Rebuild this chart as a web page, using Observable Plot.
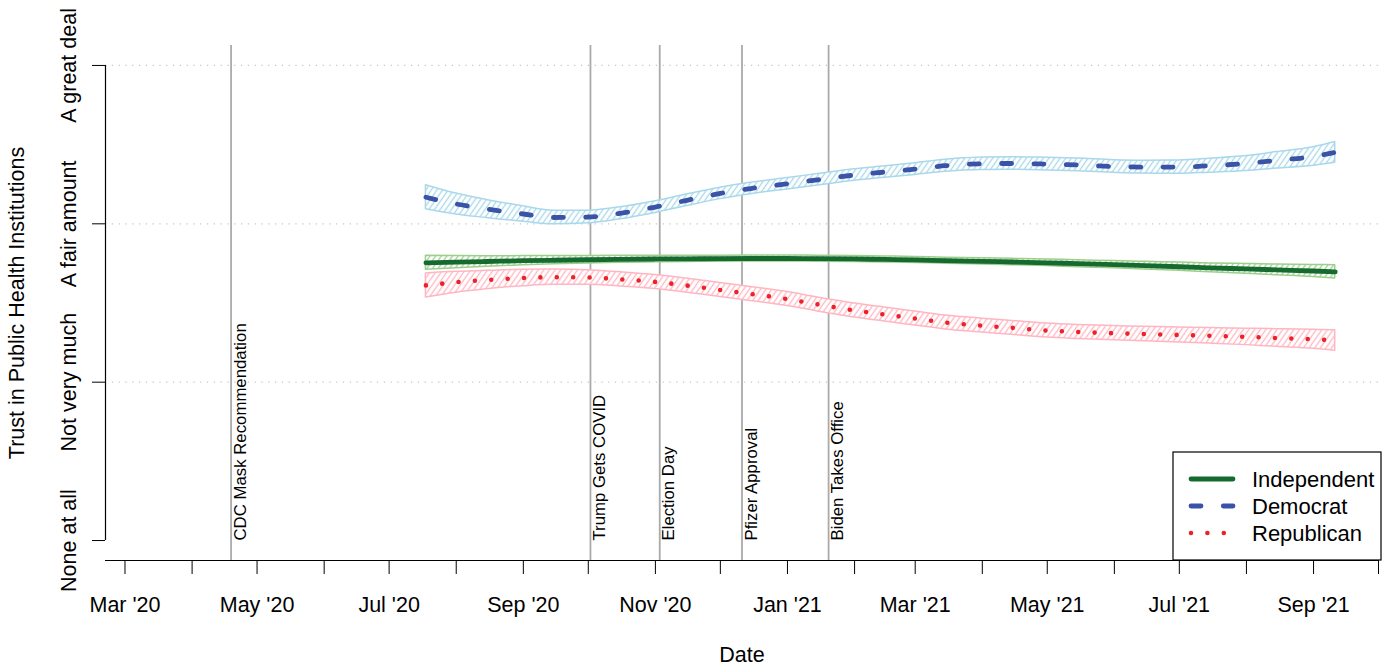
<!DOCTYPE html>
<html><head><meta charset="utf-8">
<script src="https://cdn.jsdelivr.net/npm/d3@7"></script>
<script src="https://cdn.jsdelivr.net/npm/@observablehq/plot@0.6"></script>
<style>
body{margin:0;background:#fff;}
#chart{width:1389px;height:668px;}
</style></head><body><div id="chart"></div>
<script>
// ---- data ----
const dates = ["2020-07-18","2020-08-01","2020-08-15","2020-09-01","2020-09-15","2020-10-01","2020-10-15","2020-11-01","2020-11-15","2020-12-01","2020-12-15","2021-01-01","2021-01-15","2021-02-01","2021-02-15","2021-03-01","2021-03-15","2021-04-01","2021-04-15","2021-05-01","2021-05-15","2021-06-01","2021-06-15","2021-07-01","2021-07-15","2021-08-01","2021-08-15","2021-09-01","2021-09-11"];
const demMean = [3.168,3.125,3.094,3.062,3.040,3.043,3.065,3.106,3.147,3.192,3.223,3.253,3.278,3.308,3.327,3.346,3.367,3.379,3.381,3.377,3.372,3.362,3.358,3.358,3.367,3.381,3.401,3.425,3.451];
const demHalf = [0.076,0.066,0.057,0.049,0.043,0.040,0.038,0.037,0.036,0.036,0.036,0.036,0.036,0.036,0.036,0.037,0.038,0.039,0.040,0.040,0.040,0.040,0.041,0.042,0.044,0.047,0.052,0.059,0.066];
const indMean = [2.754,2.758,2.762,2.767,2.770,2.773,2.776,2.778,2.779,2.780,2.781,2.781,2.780,2.778,2.775,2.772,2.767,2.763,2.759,2.754,2.748,2.742,2.736,2.729,2.722,2.715,2.709,2.702,2.697];
const indHalf = [0.044,0.038,0.033,0.029,0.026,0.024,0.022,0.021,0.020,0.019,0.019,0.019,0.019,0.019,0.019,0.019,0.019,0.020,0.020,0.021,0.022,0.023,0.024,0.026,0.028,0.031,0.034,0.038,0.042];
const repMean = [2.611,2.631,2.645,2.658,2.663,2.661,2.650,2.633,2.611,2.582,2.557,2.525,2.491,2.453,2.427,2.402,2.377,2.357,2.343,2.326,2.317,2.309,2.304,2.298,2.293,2.286,2.279,2.271,2.263];
const repHalf = [0.076,0.066,0.058,0.052,0.048,0.046,0.045,0.044,0.044,0.044,0.044,0.044,0.044,0.044,0.044,0.044,0.044,0.044,0.044,0.044,0.044,0.045,0.046,0.047,0.049,0.052,0.056,0.060,0.065];

const eventDates = ["2020-04-19","2020-10-02","2020-11-03","2020-12-11","2021-01-20"];
const eventLabels = ["CDC Mask Recommendation","Trump Gets COVID","Election Day","Pfizer Approval","Biden Takes Office"];

const levelValues = [1,2,3,4];
const levelLabels = ["None at all","Not very much","A fair amount","A great deal"];

const tickMonths = ["2020-03-01","2020-04-01","2020-05-01","2020-06-01","2020-07-01","2020-08-01","2020-09-01","2020-10-01","2020-11-01","2020-12-01","2021-01-01","2021-02-01","2021-03-01","2021-04-01","2021-05-01","2021-06-01","2021-07-01","2021-08-01","2021-09-01","2021-10-01"];
const tickLabels = ["Mar '20","","May '20","","Jul '20","","Sep '20","","Nov '20","","Jan '21","","Mar '21","","May '21","","Jul '21","","Sep '21",""];

const seriesNames = ["Independent","Democrat","Republican"];

// ---- build ----
const parse = d3.utcParse("%Y-%m-%d");
const mk = (mean, half) => dates.map((d,i) => ({date: parse(d), mean: mean[i], lo: mean[i]-half[i], hi: mean[i]+half[i]}));
const dem = mk(demMean, demHalf), ind = mk(indMean, indHalf), rep = mk(repMean, repHalf);
const events = eventDates.map((d,i) => ({date: parse(d), label: eventLabels[i]}));
const levels = levelValues.map((v,i) => ({value: v, label: levelLabels[i]}));
const ticks = tickMonths.map(parse);
const tickLabelMap = new Map(ticks.map((t,i) => [+t, tickLabels[i]]));

const xDomain = [parse("2020-02-21"), parse("2021-10-01")];
const yDomain = [0.874, 4.126];

const style = {
  Independent: {line: "#166a30", band: "#9ccf8b", width: 4.8, dash: null, id: "hInd"},
  Democrat: {line: "#3a53a6", band: "#a8d8ea", width: 4.8, dash: "10,22.3", id: "hDem"},
  Republican: {line: "#ee2028", band: "#ffb6c1", width: 4.6, dash: "0,16.4", id: "hRep"}
};
const curve = "monotone-x";
const band = (data, s) => Plot.areaY(data, {x: "date", y1: "lo", y2: "hi", fill: `url(#${s.id})`, stroke: s.band, strokeWidth: 1.5, curve});
const line = (data, s) => Plot.lineY(data, {x: "date", y: "mean", stroke: s.line, strokeWidth: s.width, strokeDasharray: s.dash, strokeLinecap: "round", curve});

const font = "'Liberation Sans', Arial, Helvetica, sans-serif";
const chart = Plot.plot({
  width: 1389, height: 668,
  marginLeft: 105, marginRight: 11, marginTop: 45, marginBottom: 108,
  style: {fontFamily: font, fontSize: "21.5px", background: "#fff", color: "#000"},
  x: {type: "utc", domain: xDomain},
  y: {domain: yDomain},
  marks: [
    Plot.ruleY(levelValues.slice(1), {stroke: "#c4c4c4", strokeWidth: 1.2, strokeDasharray: "1.2,5.6"}),
    Plot.ruleX(events, {x: "date", stroke: "#aaaaaa", strokeWidth: 1.8}),
    Plot.text(events, {x: "date", y: () => levelValues[0], text: "label", rotate: -90, textAnchor: "start", lineAnchor: "bottom", dx: 14.5, fontSize: 16.8, fill: "#000"}),
    band(rep, style.Republican),
    band(ind, style.Independent),
    band(dem, style.Democrat),
    line(rep, style.Republican),
    line(ind, style.Independent),
    line(dem, style.Democrat),
    Plot.axisX({ticks: ticks, tickSize: 14, tickPadding: 22, tickFormat: d => tickLabelMap.get(+d) ?? "", fontSize: 21.5, label: null}),
    Plot.ruleY([yDomain[0]], {stroke: "#000", strokeWidth: 1.2}),
    Plot.axisY({ticks: levelValues, tickSize: 13, tickFormat: () => "", label: null}),
    Plot.ruleX([xDomain[0]], {y1: levelValues[0], y2: levelValues[3], stroke: "#000", strokeWidth: 1.2}),
    Plot.text(levels, {y: "value", text: "label", frameAnchor: "left", rotate: -90, textAnchor: "middle", lineAnchor: "bottom", dx: -30, fontSize: 21.5, fill: "#000"}),
    Plot.text(["Trust in Public Health Institutions"], {frameAnchor: "left", rotate: -90, textAnchor: "middle", dx: -81.5, lineAnchor: "bottom", fontSize: 21.5, fill: "#000"}),
    Plot.text(["Date"], {frameAnchor: "bottom", textAnchor: "middle", dy: 101, lineAnchor: "bottom", fontSize: 21.5, fill: "#000"})
  ]
});

// hatch patterns
const svg = d3.select(chart);
const defs = svg.insert("defs", ":first-child");
for (const name of seriesNames) {
  const s = style[name];
  const p = defs.append("pattern").attr("id", s.id).attr("patternUnits", "userSpaceOnUse")
    .attr("width", 4.6).attr("height", 4.6).attr("patternTransform", "rotate(35)");
  p.append("rect").attr("width", 4.6).attr("height", 4.6).attr("fill", "#fff");
  p.append("line").attr("x1", 2.3).attr("x2", 2.3).attr("y1", 0).attr("y2", 4.6)
    .attr("stroke", s.band).attr("stroke-width", 1.3);
}

// legend
const lg = svg.append("g").attr("font-family", font).attr("font-size", 22).attr("text-anchor", "start");
lg.append("rect").attr("x", 1173).attr("y", 452).attr("width", 208).attr("height", 108)
  .attr("fill", "#fff").attr("stroke", "#000").attr("stroke-width", 1.2);
seriesNames.forEach((name, i) => {
  const s = style[name];
  const y = 479 + i * 27;
  lg.append("line").attr("x1", 1191).attr("x2", 1233).attr("y1", y).attr("y2", y)
    .attr("stroke", s.line).attr("stroke-width", s.width)
    .attr("stroke-dasharray", s.dash).attr("stroke-linecap", "round");
  lg.append("text").attr("x", 1252).attr("y", y + 7.7).attr("fill", "#000").text(name);
});

document.getElementById("chart").appendChild(chart);
</script>
</body></html>
